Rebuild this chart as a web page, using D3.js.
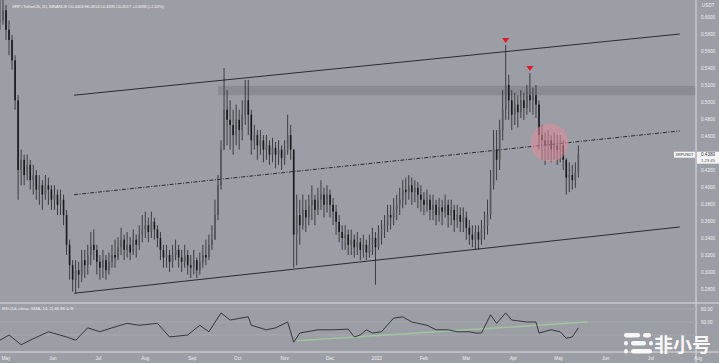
<!DOCTYPE html>
<html>
<head>
<meta charset="utf-8">
<script src="https://cdn.jsdelivr.net/npm/d3@7"></script>
<style>
  body { margin: 0; background: #9c9ea5; }
  svg { display: block; font-family: "Liberation Sans", Arial, sans-serif; }
</style>
</head>
<body>
<div id="chart"></div>
<script>
"use strict";

// 2-day candles starting Apr 27
var startDate = new Date(2021, 3, 27);
var closes = [
  .596,.608,.585,.573,.549,.502,.420,
  .432,.414,.426,.408,.414,.397,.402,.391,.402,.397,.385,.391,.379,.385,.367,
  .332,.308,.291,.302,.297,.314,.308,.320,
  .332,.326,.312,.305,.314,.302,.312,.320,.317,.329,.338,.326,.332,.323,.338,.332,.344,
  .350,.355,.347,.359,.350,.340,.326,.317,.320,.312,.320,
  .326,.317,.312,.320,.308,.305,.314,.302,.312,.320,.317,.332,.338,
  .367,.402,.444,.491,.479,.473,
  .461,.479,.467,.485,.502,.485,.455,
  .461,.449,.455,.444,.449,.438,.446,.438,.444,.434,.444,.461,.444,
  .344,.367,.355,
  .373,.364,.379,.385,.373,.385,.391,.379,.391,.379,.371,.359,.347,
  .340,.344,.332,.338,.329,.335,.326,.332,.323,.332,.340,.329,.344,
  .350,.355,.367,.364,.373,.379,.385,.397,.394,.402,
  .394,.399,.391,.385,.379,.385,.373,.379,.367,.376,.371,.379,.367,.373,.361,.367,
  .359,.364,.352,.344,.338,.347,.338,.350,.355,.367,
  .402,.444,.432,.467,.491,.520,
  .502,.485,.497,.488,.502,.493,.508,.502,.508,.497,
  .461,.455,.449,.455,.444,.449,.444,.449,.432,
  .411,.414,.408,.417,.438
];
var highs = [
  .632,.626,.614,.596,.579,.555,.508,
  .444,.438,.438,.432,.426,.420,.414,.408,.414,.411,.402,.402,.397,.397,.391,
  .373,.338,.314,.314,.312,.326,.326,.332,
  .347,.350,.332,.320,.326,.320,.323,.332,.338,.341,.352,.344,.347,.341,.350,.344,.355,
  .367,.371,.364,.371,.364,.355,.347,.332,.332,.326,.332,
  .338,.332,.326,.332,.326,.320,.326,.317,.323,.332,.338,.344,.355,
  .385,.414,.455,.540,.514,.502,
  .491,.497,.491,.502,.526,.526,.491,
  .473,.467,.467,.461,.461,.455,.458,.453,.455,.449,.455,.485,.473,
  .444,.391,.385,
  .391,.385,.391,.402,.391,.399,.408,.399,.402,.397,.387,.379,.367,
  .355,.355,.350,.350,.344,.347,.340,.344,.338,.344,.352,.347,.355,
  .361,.367,.379,.379,.387,.391,.399,.408,.411,.414,
  .411,.408,.406,.402,.394,.397,.391,.391,.385,.387,.385,.391,.385,.385,.379,.379,
  .376,.376,.371,.361,.355,.355,.355,.361,.371,.385,
  .420,.467,.467,.479,.514,.567,
  .532,.514,.511,.508,.514,.511,.520,.534,.517,.520,
  .502,.473,.464,.467,.461,.464,.461,.461,.455,
  .434,.429,.426,.429,.449
];
var lows = [
  .585,.591,.573,.555,.538,.491,.385,
  .402,.402,.408,.397,.391,.385,.379,.373,.385,.379,.373,.373,.367,.367,.355,
  .320,.291,.277,.275,.281,.288,.293,.297,
  .308,.314,.297,.291,.293,.291,.297,.305,.305,.314,.320,.314,.317,.314,.320,.317,.326,
  .335,.340,.335,.340,.338,.329,.314,.305,.305,.300,.305,
  .314,.305,.300,.305,.297,.293,.297,.293,.297,.305,.308,.314,.326,
  .338,.361,.397,.444,.449,.444,
  .438,.449,.444,.455,.473,.461,.438,
  .444,.432,.438,.429,.432,.426,.429,.422,.426,.420,.426,.438,.432,
  .305,.308,.332,
  .350,.347,.355,.361,.355,.367,.373,.364,.370,.364,.355,.344,.335,
  .326,.326,.320,.320,.317,.320,.314,.317,.314,.317,.320,.285,.326,
  .332,.340,.347,.350,.355,.361,.367,.375,.379,.385,
  .379,.382,.375,.371,.367,.371,.361,.361,.355,.359,.355,.364,.352,.355,.347,.352,
  .347,.347,.338,.332,.329,.326,.326,.332,.338,.344,
  .362,.397,.408,.420,.455,.479,
  .479,.467,.473,.470,.481,.479,.485,.488,.485,.481,
  .444,.432,.426,.432,.429,.432,.426,.429,.420,
  .391,.394,.397,.399,.411
];

var priceTicks = [0.60,0.58,0.56,0.54,0.52,0.50,0.48,0.46,0.44,0.42,0.40,0.38,0.36,0.34,0.32,0.30,0.28];
var monthLabels = ["May","Jun","Jul","Aug","Sep","Oct","Nov","Dec","2022","Feb","Mar","Apr","May","Jun","Jul","Aug"];

// RSI read at candle indices
var rsiIdx = [0,3,7,10,16,22,25,29,33,37,42,46,52,56,62,66,69,73,76,82,83,88,91,95,97,99,105,110,115,117,119,121,123,126,130,133,136,141,144,148,151,155,157,159,162,164,167,169,174,177,178,182,185,187,189,191];
var rsiVal = [32,40,25,32,45,37,32,51,45,51,58,55,58,37,40,55,45,74,63,68,55,48,51,60,29,43,48,48,49,37,40,48,43,45,66,68,60,55,48,48,45,45,43,43,71,58,74,63,60,60,43,48,45,35,37,51];
var rsiTicks = [80, 60];
var rsiBands = [80, 60, 40];
var rsiTrendIdx = [98, 194];
var rsiTrendVal = [31, 60];

// drawings
var channelDates = [new Date(2021, 5, 15), new Date(2022, 6, 20)];
var upperLine = [0.508, 0.580];
var midLine = [0.391, 0.466];
var lowerLine = [0.275, 0.353];
var zoneStart = new Date(2021, 8, 18);
var zonePrices = [0.508, 0.519];
var peakIdx = [167, 175];
var circleDate = new Date(2022, 3, 25), circlePrice = 0.452;

var w = 719, h = 363, axisX = 696, mainBottom = 303, rsiBottom = 352;

var x = d3.scaleTime()
  .domain([new Date(2021, 4, 1), new Date(2022, 7, 1)])
  .range([6, 698]);
var y = d3.scaleLinear().domain([0.28, 0.60]).range([289, 17]);
var yr = d3.scaleLinear().domain([60, 80]).range([322, 309]);

function dateOf(i) { return d3.timeDay.offset(startDate, 2 * i); }

var svg = d3.select("#chart").append("svg")
  .attr("width", w).attr("height", h);

svg.append("rect").attr("width", w).attr("height", h).attr("fill", "#9c9ea5");

var main = svg.append("g");
main.append("clipPath").attr("id", "clipMain")
  .append("rect").attr("width", axisX).attr("height", mainBottom);
var plot = main.append("g").attr("clip-path", "url(#clipMain)");

// resistance zone
plot.append("rect")
  .attr("x", x(zoneStart)).attr("y", y(zonePrices[1]))
  .attr("width", axisX - x(zoneStart))
  .attr("height", y(zonePrices[0]) - y(zonePrices[1]))
  .attr("fill", "#85878e").attr("opacity", 0.8);

// channel lines
[[upperLine, null], [midLine, "4,1.5,1,1.5"], [lowerLine, null]].forEach(function (l) {
  plot.append("line")
    .attr("x1", x(channelDates[0])).attr("y1", y(l[0][0]))
    .attr("x2", x(channelDates[1])).attr("y2", y(l[0][1]))
    .attr("stroke", "#2b2c30").attr("stroke-width", 1)
    .attr("stroke-dasharray", l[1]);
});

// candles
var candles = closes.map(function (c, i) {
  var o = i === 0 ? c : closes[i - 1];
  return { d: dateOf(i), o: o, c: c,
    h: Math.max(highs[i], o, c), l: Math.min(lows[i], o, c) };
});
var cg = plot.selectAll("g.candle").data(candles).enter().append("g");
cg.append("line")
  .attr("x1", function (d) { return x(d.d); })
  .attr("x2", function (d) { return x(d.d); })
  .attr("y1", function (d) { return y(d.h); })
  .attr("y2", function (d) { return y(d.l); })
  .attr("stroke", "#232428").attr("stroke-width", 0.8);
cg.append("rect")
  .attr("x", function (d) { return x(d.d) - 0.8; })
  .attr("width", 1.6)
  .attr("y", function (d) { return y(Math.max(d.o, d.c)); })
  .attr("height", function (d) { return Math.max(0.8, Math.abs(y(d.o) - y(d.c))); })
  .attr("fill", function (d) { return d.c >= d.o ? "#55575d" : "#18191c"; });

// red markers over the two tops
plot.selectAll("path.peak").data(peakIdx).enter().append("path")
  .attr("d", function (i) {
    var cx = x(dateOf(i)), cy = y(highs[i]) - 2;
    return "M" + (cx - 3.5) + "," + (cy - 5) + "L" + (cx + 3.5) + "," + (cy - 5) + "L" + cx + "," + cy + "Z";
  })
  .attr("fill", "#e0182a");

// highlight circle
plot.append("circle")
  .attr("cx", x(circleDate)).attr("cy", y(circlePrice)).attr("r", 19)
  .attr("fill", "#e38d9a").attr("opacity", 0.55);

// panes separators
svg.append("line").attr("x1", 0).attr("x2", w).attr("y1", mainBottom).attr("y2", mainBottom)
  .attr("stroke", "#dcdde1").attr("stroke-width", 1);
svg.append("line").attr("x1", 0).attr("x2", w).attr("y1", rsiBottom).attr("y2", rsiBottom)
  .attr("stroke", "#dcdde1").attr("stroke-width", 1);
svg.append("line").attr("x1", axisX).attr("x2", axisX).attr("y1", 0).attr("y2", h)
  .attr("stroke", "#dcdde1").attr("stroke-width", 1);

// price axis (ticks hidden under the last-price label)
var last = closes[closes.length - 1], ly = y(last);
var pa = svg.append("g").attr("font-size", 4.6).attr("fill", "#eeeff2");
pa.append("text").attr("x", 702).attr("y", 7).text("USDT");
pa.selectAll("text.tick")
  .data(priceTicks.filter(function (d) { return Math.abs(y(d) - ly - 3) > 9; }))
  .enter().append("text")
  .attr("x", 701).attr("y", function (d) { return y(d) + 1.6; })
  .text(function (d) { return d3.format(".4f")(d); });

// last price label
svg.append("rect").attr("x", 674).attr("y", ly - 3).attr("width", 21).attr("height", 6)
  .attr("fill", "#f4f4f6");
svg.append("text").attr("x", 684.5).attr("y", ly + 1.5).attr("text-anchor", "middle")
  .attr("font-size", 3.8).attr("fill", "#333").text("XRPUSDT");
svg.append("rect").attr("x", 697).attr("y", ly - 3).attr("width", 22).attr("height", 12)
  .attr("fill", "#f4f4f6");
svg.append("text").attr("x", 701).attr("y", ly + 1.6).attr("font-size", 4.6).attr("fill", "#333")
  .text(d3.format(".4f")(last));
svg.append("text").attr("x", 701).attr("y", ly + 7.4).attr("font-size", 4.2).attr("fill", "#555")
  .text("1:23:45");

// legend
svg.append("text").attr("x", 12).attr("y", 7.5).attr("font-size", 4.4).attr("fill", "#eeeff2")
  .attr("textLength", 152)
  .text("XRP / TetherUS, 1D, BINANCE  O0.4403  H0.4614  L0.4395  C0.4517  +0.0098 (+2.24%)");

// RSI pane
var rp = svg.append("g");
rp.selectAll("line.band").data(rsiBands).enter().append("line")
  .attr("x1", 0).attr("x2", axisX)
  .attr("y1", function (d) { return yr(d); }).attr("y2", function (d) { return yr(d); })
  .attr("stroke", "#a6a8af").attr("stroke-width", 1);
rp.append("path")
  .datum(rsiTrendIdx.map(function (d, i) { return [d, rsiTrendVal[i]]; }))
  .attr("d", d3.line().x(function (d) { return x(dateOf(d[0])); }).y(function (d) { return yr(d[1]); }))
  .attr("fill", "none").attr("stroke", "#a3d09d").attr("stroke-width", 1.5).attr("opacity", 0.75);
rp.append("path")
  .datum(rsiIdx.map(function (d, i) { return [d, rsiVal[i]]; }))
  .attr("d", d3.line().x(function (d) { return x(dateOf(d[0])); }).y(function (d) { return yr(d[1]); }))
  .attr("fill", "none").attr("stroke", "#2a2b2f").attr("stroke-width", 0.9);
rp.append("text").attr("x", 2).attr("y", 309.5).attr("font-size", 4.4).attr("fill", "#eeeff2")
  .attr("textLength", 72).text("RSI (14, close, SMA, 14, 2)  48.98  ⊘  ⚙");
rp.selectAll("text.tick").data(rsiTicks).enter().append("text")
  .attr("x", 701).attr("y", function (d) { return yr(d) + 1.6; })
  .attr("font-size", 4.6).attr("fill", "#eeeff2")
  .text(function (d) { return d3.format(".2f")(d); });

// time axis
var months = d3.timeMonth.range(new Date(2021, 4, 1), new Date(2022, 7, 2));
svg.selectAll("text.month").data(months).enter().append("text")
  .attr("x", function (d) { return x(d); }).attr("y", 359.5)
  .attr("text-anchor", "middle").attr("font-size", 4.6).attr("fill", "#eeeff2")
  .text(function (d, i) { return monthLabels[i]; });

// watermark
var wm = svg.append("g").attr("fill", "#ffffff").attr("opacity", 0.92);
[[624, 333, 16], [643, 333, 8], [624, 341, 4], [631, 341, 15], [649, 341, 4], [624, 349, 4], [631, 349, 21]]
  .forEach(function (r) {
    wm.append("rect").attr("x", r[0]).attr("y", r[1]).attr("width", r[2]).attr("height", 4.5).attr("rx", 2.2);
  });
wm.append("text").attr("x", 654).attr("y", 352).attr("font-size", 19).attr("font-weight", "bold")
  .attr("font-family", "'Noto Sans CJK SC', sans-serif").text("非小号");
</script>
</body>
</html>
